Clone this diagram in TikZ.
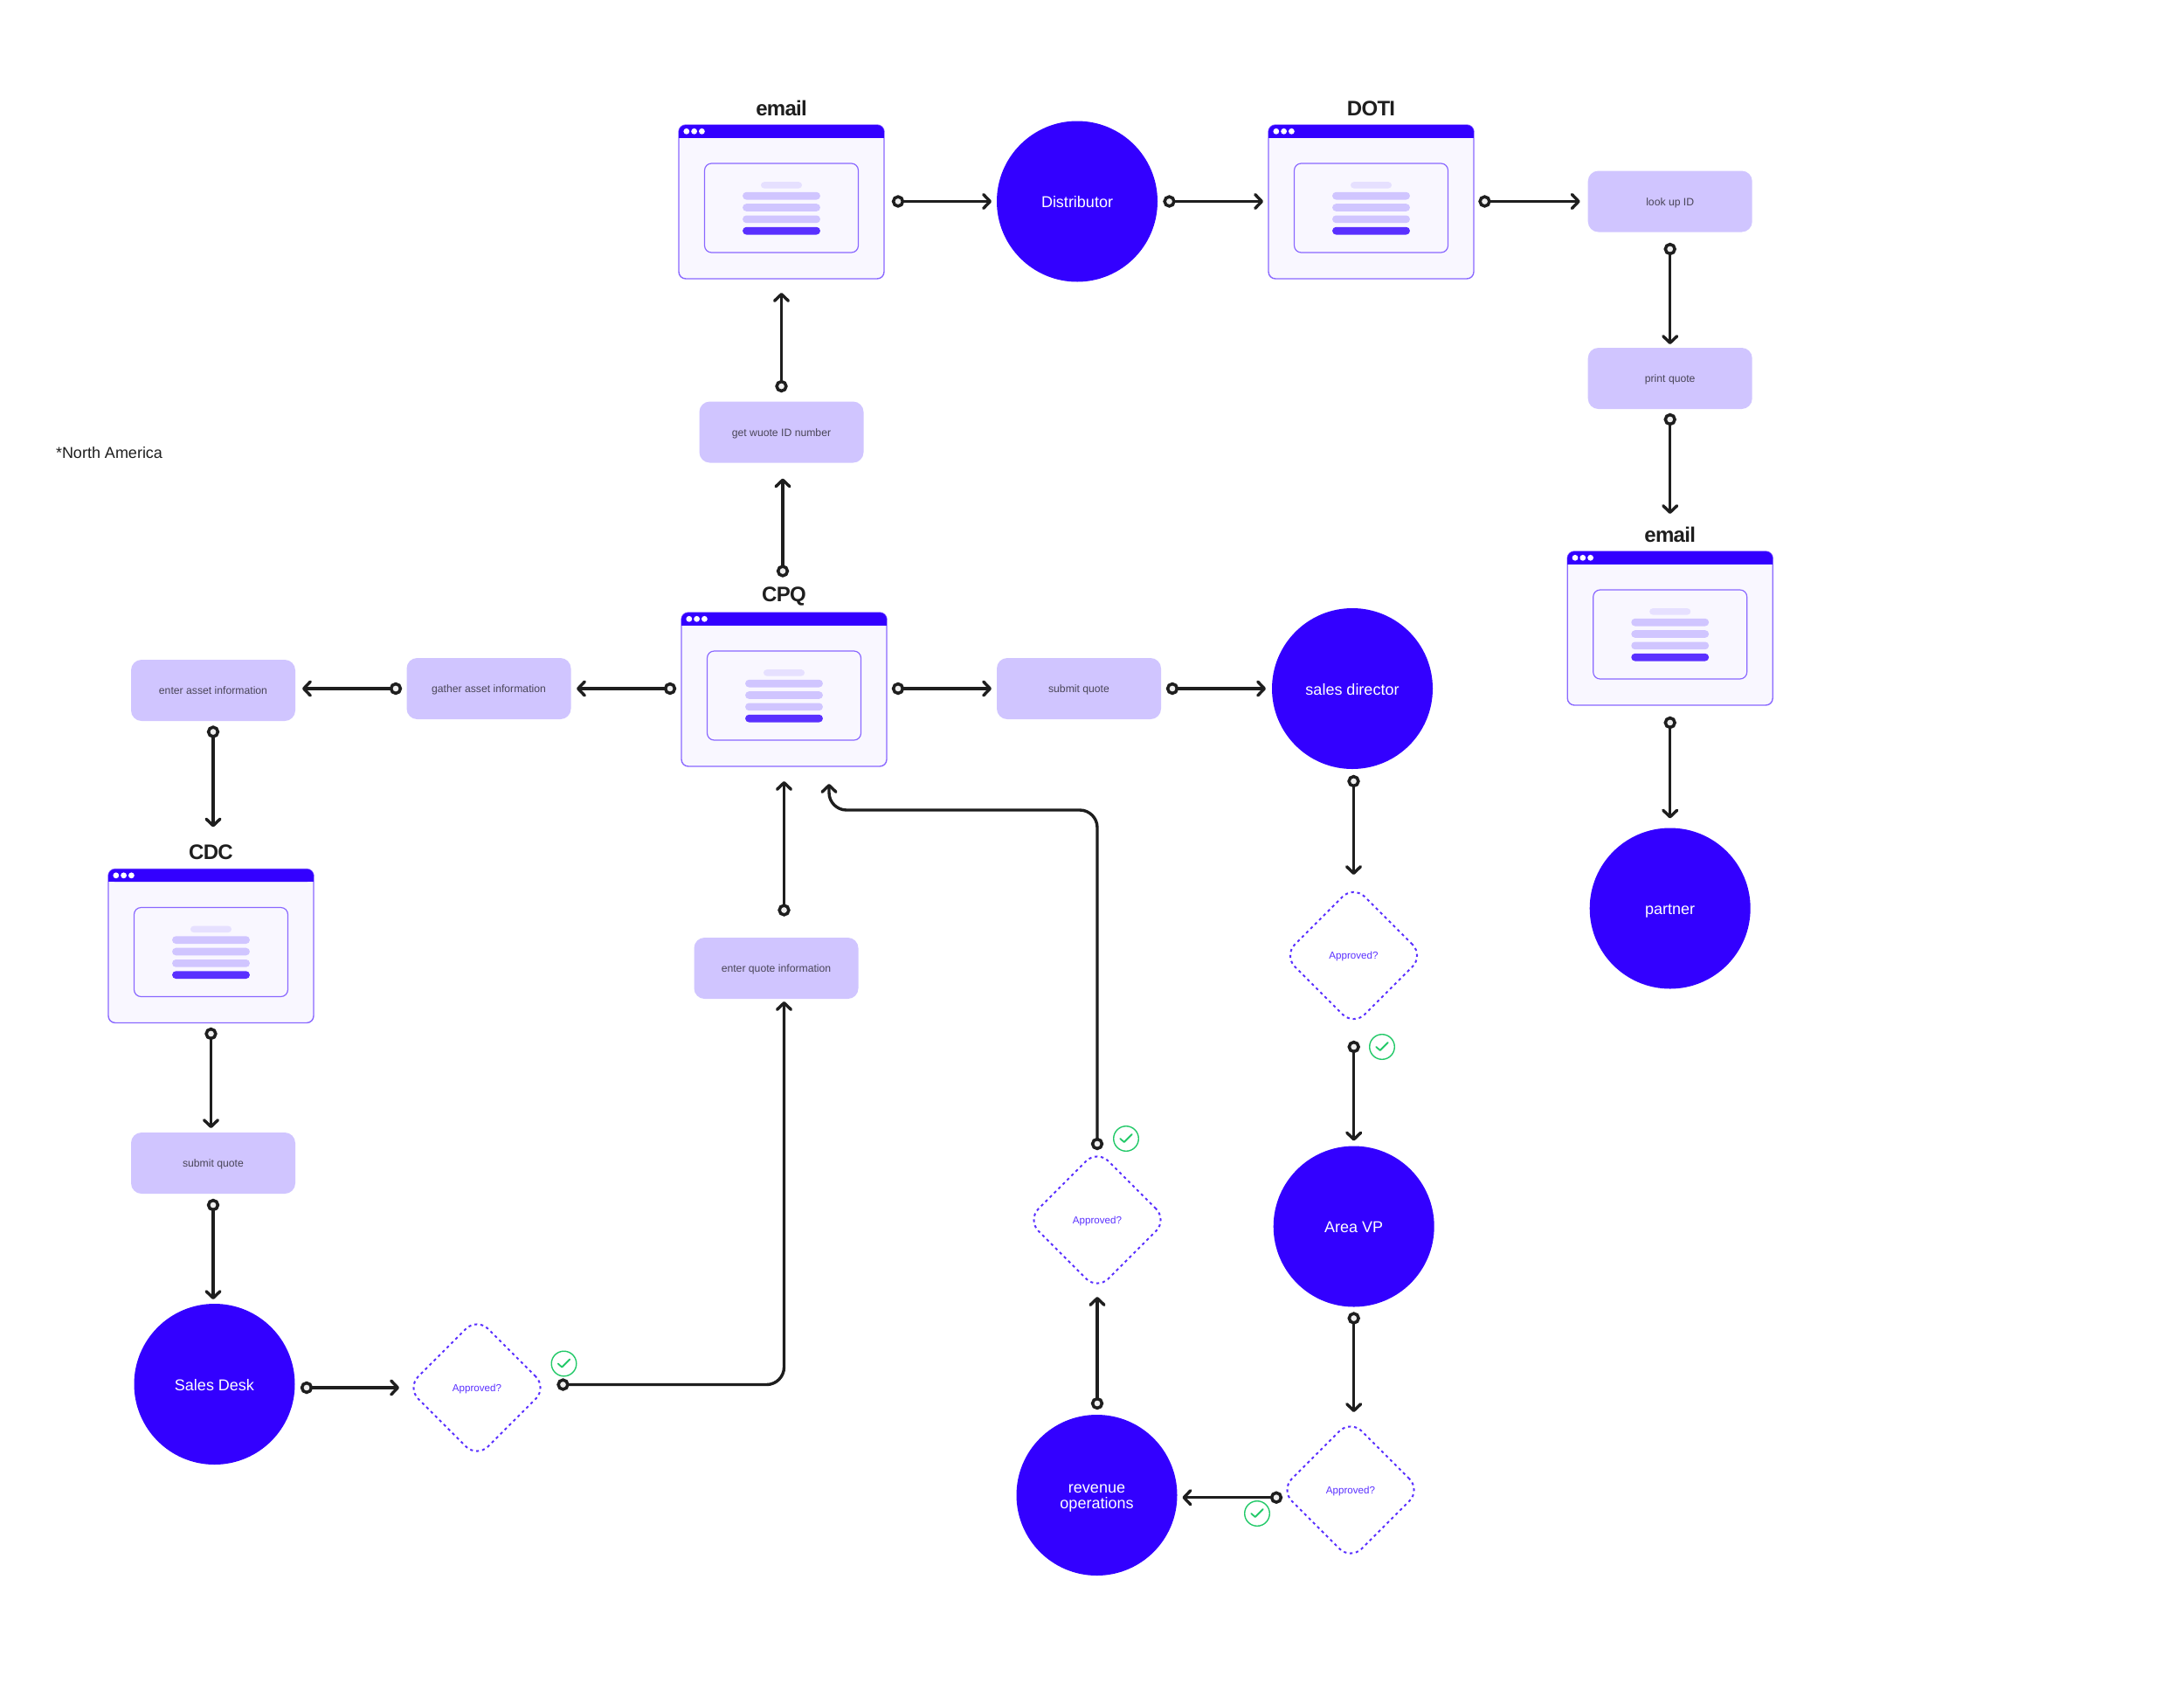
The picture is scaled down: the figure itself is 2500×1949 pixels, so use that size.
\documentclass[tikz,border=0pt]{standalone}
\usepackage{fontspec}
\setmainfont{Liberation Sans}
\usetikzlibrary{arrows.meta,shapes.geometric}
\definecolor{brand}{HTML}{3300FF}
\definecolor{brandmid}{HTML}{5A30FF}
\definecolor{lilac}{HTML}{D0C5FF}
\definecolor{lilacpale}{HTML}{E6E0FF}
\definecolor{winfill}{HTML}{F9F7FF}
\definecolor{winline}{HTML}{8A68FF}
\definecolor{ink}{HTML}{1E1E1E}
\definecolor{boxtext}{HTML}{4A4658}
\definecolor{okgreen}{HTML}{22C968}
\definecolor{ringfill}{HTML}{EFEFEF}
\tikzset{
  every node/.style={inner sep=0pt,outer sep=0pt},
  actorbase/.style={circle,fill=brand,minimum size=92pt,text=white,font=\fontsize{9}{9}\selectfont},
  actor/.style={actorbase,text height=9pt,text depth=1.9pt},
  actorlabel/.style={text=white,align=center,font=\fontsize{9}{9}\selectfont},
  taskbox/.style={rectangle,rounded corners=6pt,fill=lilac,minimum width=94pt,minimum height=35pt,text=boxtext,text height=6pt,text depth=1.2pt,font=\fontsize{6.1}{7}\selectfont},
  decision/.style={diamond,aspect=1,minimum size=80pt,draw=brandmid,line width=1pt,rounded corners=9pt,dash pattern=on 1.6pt off 1.9pt,text=brandmid,text height=5.2pt,text depth=1.2pt,font=\fontsize{5.8}{7}\selectfont},
  winbody/.style={rectangle,rounded corners=4pt,minimum width=117.5pt,minimum height=88pt,fill=winfill,draw=winline,line width=0.7pt},
  wintitle/.style={text=ink,font=\fontsize{12}{12}\selectfont\bfseries\addfontfeature{LetterSpace=-3}},
  ringdot/.style={circle,minimum size=5.4pt,fill=ringfill,draw=ink,line width=1.75pt},
  conn/.style={draw=ink,line width=1.7pt,line cap=round,line join=round,-{Straight Barb[length=3.8pt,width=8pt,round]}},
  okmark/.style={circle,minimum size=14.3pt,draw=okgreen,line width=0.7pt},
}
\newcommand{\appwin}[4]{%
  \begin{scope}[shift={(#2,#3)}]
    \node[winbody] (#1) at (0,88) {};
    \fill[brand,rounded corners=4pt] (-117.5,0) rectangle (117.5,14.7);
    \fill[brand] (-117.5,7) rectangle (117.5,14.7);
    \foreach \dx in {-108.7,-99.9,-91.1} \fill[white] (\dx,7.3) circle[radius=1.7pt];
    \draw[winline,line width=0.6pt,rounded corners=4pt,fill=winfill] (-88,44) rectangle (88,146);
    \fill[lilacpale,rounded corners=1.8pt] (-23.5,65.2) rectangle (23.5,72.5);
    \fill[lilac,rounded corners=2.1pt] (-44.4,76.8) rectangle (44.4,85.5);
    \fill[lilac,rounded corners=2.1pt] (-44.4,90.2) rectangle (44.4,98.8);
    \fill[lilac,rounded corners=2.1pt] (-44.4,103.5) rectangle (44.4,112.2);
    \fill[brandmid,rounded corners=2.1pt] (-44.4,116.8) rectangle (44.4,125.5);
    \node[wintitle] (#1title) at (0,-19) {#4};
  \end{scope}}
\newcommand{\okat}[3]{%
  \node[okmark] (#1) at (#2,#3) {};
  \draw[okgreen,line width=0.9pt,line cap=round,line join=round] ([shift={(-6.7,0)}]#1.center) -- ([shift={(-2.3,4)}]#1.center) -- ([shift={(6.7,-5)}]#1.center);}
\newcommand{\hlink}[3]{\draw[conn,shorten >=#3] (#1) -- (#1 -| #2);}
\newcommand{\vlink}[3]{\draw[conn,shorten >=#3] (#1) -- (#1 |- #2);}
\begin{document}
\begin{tikzpicture}[x=0.5pt,y=-0.5pt]
\useasboundingbox (0,0) rectangle (2500,1949);
\fill[white] (0,0) rectangle (2500,1949);

\appwin{emaila}{894.5}{143}{email}
\appwin{doti}{1569.5}{143}{DOTI}
\appwin{emailb}{1911.7}{631}{email}
\appwin{cpq}{897.5}{701}{CPQ}
\appwin{cdc}{241.5}{994.5}{CDC}

\node[actor] (distributor) at (1233,230.5) {Distributor};
\node[actor] (salesdir) at (1548,788) {sales director};
\node[actor] (partner) at (1911.7,1039.5) {partner};
\node[actor] (areavp) at (1549.7,1403.5) {Area VP};
\node[actorbase] (revops) at (1255.5,1711) {};
\node[actorlabel] (revopslabel) at (1255.5,1714.5) {revenue\\operations};
\node[actor] (salesdesk) at (245.5,1584) {Sales Desk};

\node[taskbox] (lookup) at (1911.7,230.5) {look up ID};
\node[taskbox] (print) at (1911.7,433) {print quote};
\node[taskbox] (getid) at (894.5,494.5) {get wuote ID number};
\node[taskbox] (gather) at (559.5,788) {gather asset information};
\node[taskbox] (enterasset) at (244,790) {enter asset information};
\node[taskbox] (submitr) at (1235,788) {submit quote};
\node[taskbox] (enterquote) at (888.5,1108) {enter quote information};
\node[taskbox] (submitl) at (244,1331) {submit quote};

\node[decision] (da) at (1549.5,1093.5) {Approved?};
\node[decision] (db) at (1256,1396) {Approved?};
\node[decision] (dc) at (1546,1705) {Approved?};
\node[decision] (dd) at (546,1588) {Approved?};

\node[anchor=west,text=ink,font=\fontsize{9}{10}\selectfont] (region) at (64,518) {*North America};

\coordinate (bendcpq) at (949,927);

\foreach \n/\x/\y in {r1/1028/230.5,r2/1338.5/230.5,r3/1699.5/230.5,r4/1911.7/285,r5/1911.7/480,r6/1911.7/827,r7/894.5/442,r8/896/653.5,r9/767/788,r10/453/788,r11/244/837.5,r12/241.5/1183,r13/244/1379,r14/351/1588,r15/644.5/1584.5,r16/897.5/1041.5,r17/1028/788,r18/1342/788,r19/1549.5/894,r20/1549.7/1198,r21/1549.7/1508.5,r22/1461/1713.7,r23/1256/1606,r24/1256/1309}
  \node[ringdot] (\n) at (\x,\y) {};

\hlink{r1}{distributor.west}{3pt}
\hlink{r2}{doti.west}{3pt}
\hlink{r3}{lookup.west}{4.5pt}
\vlink{r4}{print.north}{2pt}
\vlink{r5}{emailb.north}{21.5pt}
\vlink{r6}{partner.north}{5.5pt}
\vlink{r7}{emaila.south}{8pt}
\vlink{r8}{getid.south}{9pt}
\hlink{r9}{gather.east}{3.25pt}
\hlink{r10}{enterasset.east}{4pt}
\vlink{r11}{cdc.north}{24pt}
\vlink{r12}{submitl.north}{2.5pt}
\vlink{r13}{salesdesk.north}{2.5pt}
\hlink{r14}{dd.west}{4.5pt}
\draw[conn,rounded corners=10pt,shorten >=1.5pt] (r15) -- (r16 |- r15) -- (r16 |- enterquote.south);
\vlink{r16}{cpq.south}{8.5pt}
\hlink{r17}{submitr.west}{3pt}
\hlink{r18}{salesdir.west}{3.5pt}
\vlink{r19}{da.north}{6.25pt}
\vlink{r20}{areavp.north}{3pt}
\vlink{r21}{dc.north}{4.5pt}
\hlink{r22}{revops.east}{3pt}
\vlink{r23}{db.south}{4pt}
\draw[conn,rounded corners=10pt,shorten >=10pt] (r24) -- (r24 |- bendcpq) -- (bendcpq) -- (bendcpq |- cpq.south);

\okat{oka}{1582}{1198}
\okat{okb}{1289}{1303}
\okat{okc}{1439}{1732}
\okat{okd}{645.5}{1560.5}
\end{tikzpicture}
\end{document}
